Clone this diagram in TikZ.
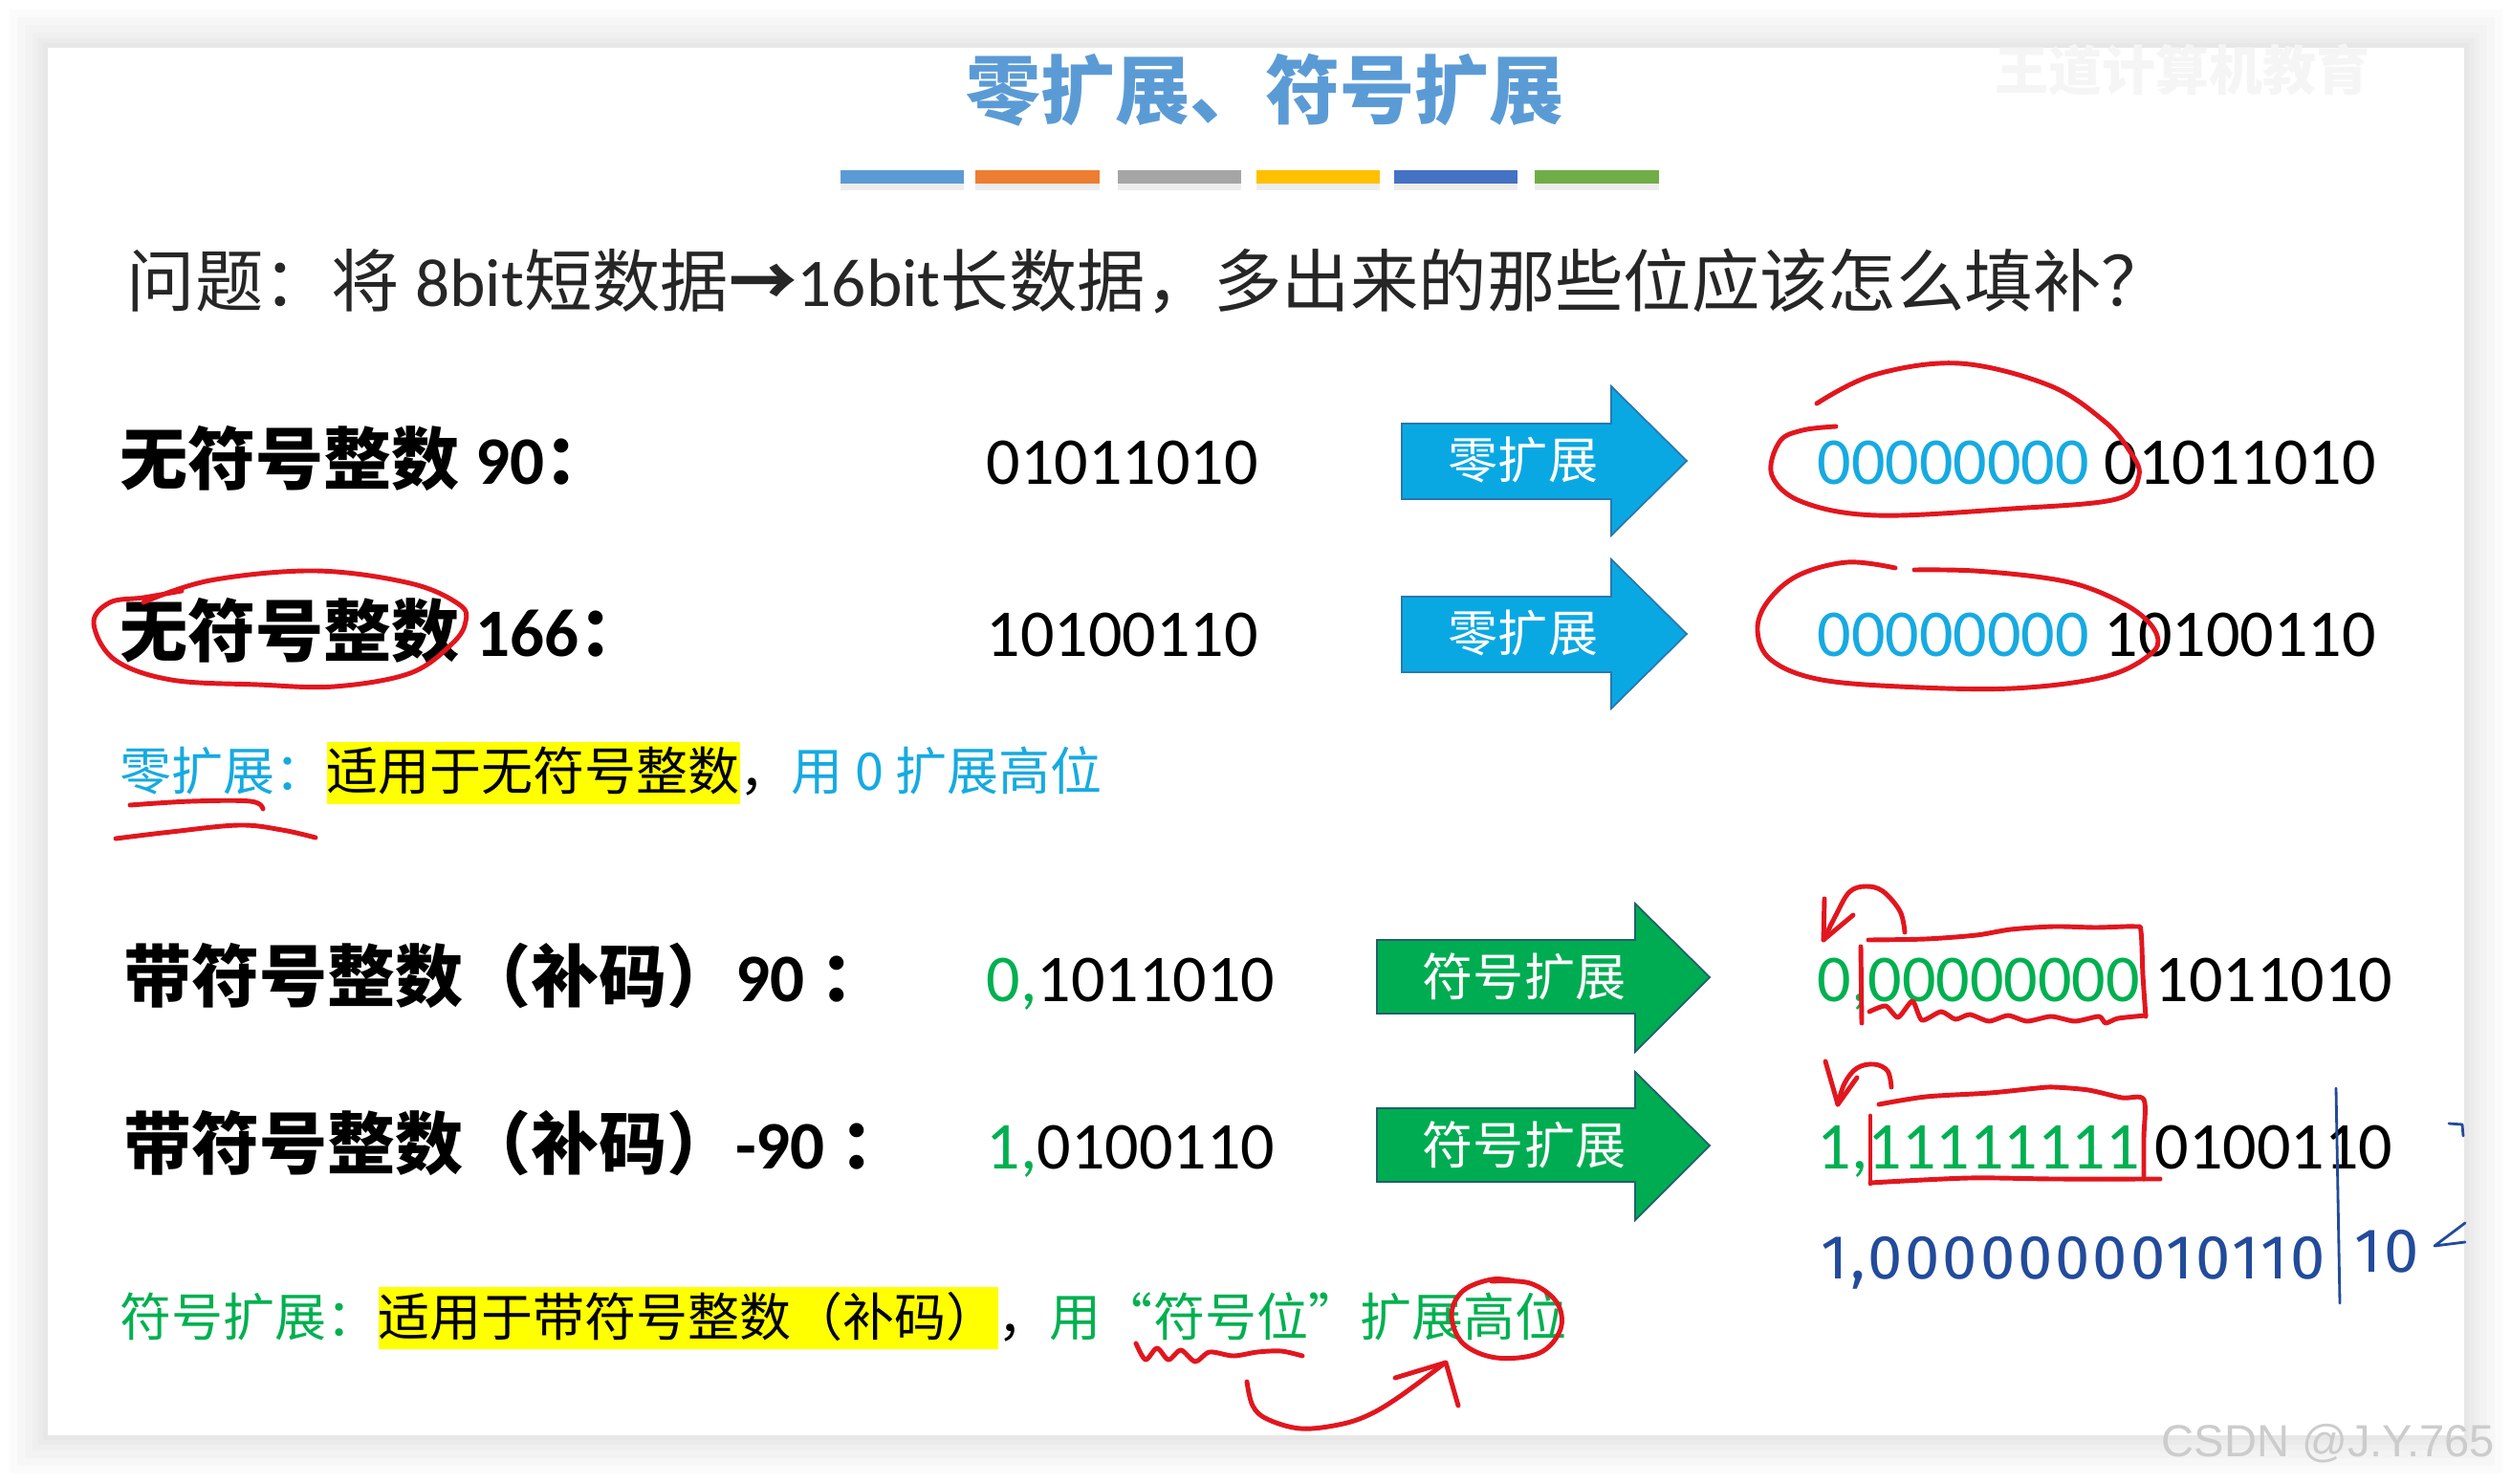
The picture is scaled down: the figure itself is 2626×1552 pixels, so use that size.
\documentclass[tikz,border=0pt]{standalone}
\usepackage{fontspec}
\usepackage{graphicx}
\newfontfamily\cjk{Noto Sans CJK SC}
\newfontfamily\calib{Carlito}
\newfontfamily\handf{Fira Sans}[LetterSpace=4.5]
\newfontfamily\wmf{Liberation Sans}
\definecolor{penred}{RGB}{226,22,30}
\definecolor{penblue}{RGB}{35,75,155}
\definecolor{ttl}{RGB}{91,155,213}
\definecolor{qtxt}{RGB}{38,38,38}
\definecolor{zblue}{RGB}{10,168,226}
\definecolor{zblueb}{RGB}{40,120,175}
\definecolor{sgreen}{RGB}{0,172,82}
\definecolor{sgreenb}{RGB}{35,95,110}
\definecolor{zcyan}{RGB}{22,170,225}
\definecolor{tgreen}{RGB}{0,176,80}
\definecolor{hlyel}{RGB}{255,255,0}
\definecolor{barA}{RGB}{91,155,213}
\definecolor{barB}{RGB}{237,125,49}
\definecolor{barC}{RGB}{165,165,165}
\definecolor{barD}{RGB}{255,192,0}
\definecolor{barE}{RGB}{68,114,196}
\definecolor{barF}{RGB}{112,173,71}
\newcommand\hlbox[1]{{\setlength\fboxsep{0pt}\colorbox{hlyel}{\rule[-0.26em]{0pt}{1.2em}#1}}}
\tikzset{
  lbl/.style={anchor=base west, inner sep=0pt, text=black, font=\cjk\bfseries\fontsize{20.2pt}{21pt}\selectfont},
  bin/.style={anchor=base west, inner sep=0pt, text=black, font=\calib\fontsize{19.92pt}{20pt}\selectfont},
  arrtxt/.style={anchor=base, inner sep=0pt, text=white, font=\cjk\fontsize{14.8pt}{15pt}\selectfont},
  expl/.style={anchor=base west, inner sep=0pt, text=black, font=\cjk\fontsize{15.36pt}{16pt}\selectfont},
  redpen/.style={draw=penred, line width=1.4pt, line cap=round, line join=round},
  bluepen/.style={draw=penblue, line width=0.8pt, line cap=round, line join=round},
  zarrow/.style={fill=zblue, draw=zblueb, line width=0.5pt},
  sarrow/.style={fill=sgreen, draw=sgreenb, line width=0.5pt},
  hand/.style={anchor=base west, inner sep=0pt, text=penblue, font=\handf\fontsize{18.5pt}{19pt}\selectfont},
}
\begin{document}
\begin{tikzpicture}[x=0.01cm,y=-0.01cm]
\useasboundingbox (0,0) rectangle (2626,1552);
\fill[white] (0,0) rectangle (2626,1552);
% slide shadow
\foreach \dd in {40,32,24,16,10,5}
  \fill[black,opacity=0.014] (50-\dd,50-\dd) rectangle (2577+\dd,1501+\dd);
\fill[white] (50,50) rectangle (2577,1501);

% faint watermark top right
\node[anchor=base west, inner sep=0pt, text=black!4, font=\cjk\bfseries\fontsize{15.9pt}{16pt}\selectfont] (wm1) at (2086,95) {王道计算机教育};

% title
\node[anchor=base, inner sep=0pt, text=ttl, font=\cjk\bfseries\fontsize{22.2pt}{23pt}\selectfont] (title) at (1323,124) {零扩展、符号扩展};

% colour bars
\foreach \xa/\xb/\cc in {879/1008/barA,1020/1150/barB,1169/1298/barC,1314/1443/barD,1458/1587/barE,1605/1735/barF}{
  \fill[black,opacity=0.07] (\xa,191) rectangle (\xb,199);
  \fill[\cc] (\xa,178) rectangle (\xb,192);
}

% question
\node[anchor=base west, inner sep=0pt, text=qtxt, font=\cjk\fontsize{20.3pt}{21pt}\selectfont] (q) at (132,321)
  {问题：将 {\calib 8bit}短数据{\bfseries →}{\calib 16bit}长数据，多出来的那些位应该怎么填补？};

% row 1
\node[lbl] (l1) at (125,507) {无符号整数 {\calib 90}：};
\node[bin] (b1) at (1031,507) {01011010};
\fill[zarrow] (1466,443) -- (1685,443) -- (1685,404) -- (1764,482) -- (1685,560) -- (1685,522) -- (1466,522) -- cycle;
\node[arrtxt] (a1) at (1593,501) {零扩展};
\node[bin] (r1) at (1900,507) {{\color{zcyan}00000000} 01011010};

% row 2
\node[lbl] (l2) at (125,686) {无符号整数 {\calib 166}：};
\node[bin] (b2) at (1031,686) {10100110};
\fill[zarrow] (1466,624) -- (1685,624) -- (1685,585) -- (1764,663) -- (1685,741) -- (1685,703) -- (1466,703) -- cycle;
\node[arrtxt] (a2) at (1593,682) {零扩展};
\node[bin] (r2) at (1900,686) {{\color{zcyan}00000000} 10100110};

% zero extension explanation
\node[expl] (e1) at (125,827) {{\color{zcyan}零扩展：}\hlbox{适用于无符号整数}，{\color{zcyan}用 0 扩展高位}};

% row 3
\node[lbl] (l3) at (129,1047) {带符号整数（补码）{\calib 90 }：};
\node[bin] (b3) at (1031,1047) {{\color{tgreen}0,}1011010};
\fill[sarrow] (1440,983) -- (1710,983) -- (1710,945) -- (1788,1022) -- (1710,1100) -- (1710,1060) -- (1440,1060) -- cycle;
\node[arrtxt, font=\cjk\fontsize{15.1pt}{16pt}\selectfont] (a3) at (1594,1041) {符号扩展};
\node[bin] (r3) at (1900,1047) {{\color{tgreen}0,00000000} 1011010};

% row 4
\node[lbl] (l4) at (129,1222) {带符号整数（补码）{\calib -90 }：};
\node[bin] (b4) at (1031,1222) {{\color{tgreen}1,}0100110};
\fill[sarrow] (1440,1159) -- (1710,1159) -- (1710,1121) -- (1788,1198) -- (1710,1276) -- (1710,1236) -- (1440,1236) -- cycle;
\node[arrtxt, font=\cjk\fontsize{15.1pt}{16pt}\selectfont] (a4) at (1594,1217) {符号扩展};
\node[bin] (r4) at (1900,1222) {{\color{tgreen}1,11111111} 0100110};

% sign extension explanation
\node[expl] (e2) at (125,1397) {{\color{tgreen}符号扩展：}\hlbox{适用于带符号整数（补码）}，{\color{tgreen}用“符号位”扩展高位}};

% handwritten blue
\node[hand] (hw1) at (1904,1337) {1,0000000010110};
\node[hand] (hw2) at (2462,1330) {10};
\draw[bluepen] (2443,1138) -- (2447,1363);
\draw[bluepen] (2578,1279) -- (2546,1303) -- (2578,1299);
\draw[bluepen] (2561,1175) -- (2575,1176) -- (2576,1188);

% red annotations
\draw[redpen] plot[smooth, tension=0.6] coordinates {(1900,422) (1960,392) (2049,380) (2143,403) (2200,440) (2226,470) (2237,497) (2213,522) (2104,532) (1963,539) (1885,525) (1853,497) (1861,462) (1885,450) (1920,446)};
\draw[redpen] plot[smooth, tension=0.6] coordinates {(1982,594) (1932,588) (1880,602) (1848,630) (1838,660) (1852,690) (1900,710) (1986,718) (2104,720) (2200,708) (2248,685) (2256,665) (2235,640) (2190,617) (2143,605) (2065,597) (2002,596)};
\draw[redpen] plot[smooth, tension=0.6] coordinates {(150,630) (220,607) (330,597) (429,610) (480,632) (487,650) (473,673) (429,704) (350,718) (270,716) (179,711) (120,690) (98,652) (115,630) (150,625) (190,618)};
\draw[redpen] plot[smooth, tension=0.6] coordinates {(136,842) (200,838) (262,838) (275,846)};
\draw[redpen] plot[smooth, tension=0.6] coordinates {(121,877) (179,870) (250,863) (295,868) (330,876)};
% row 3 box and arrow
\draw[redpen] (1946,990) -- (1947,1070);
\draw[redpen] plot[smooth, tension=0.5] coordinates {(1954,983) (2014,982) (2067,978) (2103,972) (2148,969) (2192,970) (2233,969) (2239,974) (2241,1020) (2244,1063)};
\draw[redpen] plot[smooth, tension=0.4] coordinates {(1955,1058) (1972,1052) (1985,1064) (2000,1047) (2010,1067) (2030,1058) (2045,1066) (2060,1061) (2080,1068) (2100,1062) (2120,1068) (2145,1063) (2170,1068) (2195,1063) (2202,1070) (2215,1065) (2244,1062)};
\draw[redpen] plot[smooth, tension=0.6] coordinates {(1992,975) (1987,953) (1969,932) (1951,927) (1934,933) (1920,957) (1907,983)};
\draw[redpen] (1908,940) -- (1907,983) -- (1938,957);
% row 4 box and arrow
\draw[redpen] (1956,1167) -- (1956,1238);
\draw[redpen] plot[smooth, tension=0.5] coordinates {(1965,1155) (2014,1147) (2081,1143) (2130,1138) (2148,1137) (2184,1140) (2219,1148) (2242,1150) (2242,1190) (2242,1233)};
\draw[redpen] plot[smooth, tension=0.5] coordinates {(1956,1237) (2059,1232) (2148,1233) (2259,1233)};
\draw[redpen] plot[smooth, tension=0.6] coordinates {(1978,1137) (1974,1120) (1960,1113) (1942,1117) (1929,1133) (1922,1155)};
\draw[redpen] (1909,1110) -- (1922,1155) -- (1942,1127);
% squiggle, circle and arrow at bottom
\draw[redpen] plot[smooth, tension=0.5] coordinates {(1188,1405) (1198,1422) (1210,1410) (1222,1422) (1235,1412) (1250,1424) (1265,1414) (1290,1418) (1315,1414) (1340,1413) (1362,1418)};
\draw[redpen] plot[smooth, tension=0.6] coordinates {(1560,1340) (1600,1342) (1628,1362) (1632,1390) (1610,1415) (1565,1420) (1530,1405) (1518,1375) (1530,1350) (1560,1338) (1585,1340)};
\draw[redpen] plot[smooth, tension=0.6] coordinates {(1304,1445) (1310,1470) (1325,1484) (1360,1494) (1400,1490) (1431,1480) (1463,1461) (1509,1427)};
\draw[redpen] (1459,1441) -- (1512,1425) -- (1525,1470);

% CSDN watermark
\node[anchor=base west, inner sep=0pt, text=black!20, font=\wmf\fontsize{13.4pt}{14pt}\selectfont] (wm2) at (2260,1523) {CSDN @J.Y.765};
\end{tikzpicture}
\end{document}
